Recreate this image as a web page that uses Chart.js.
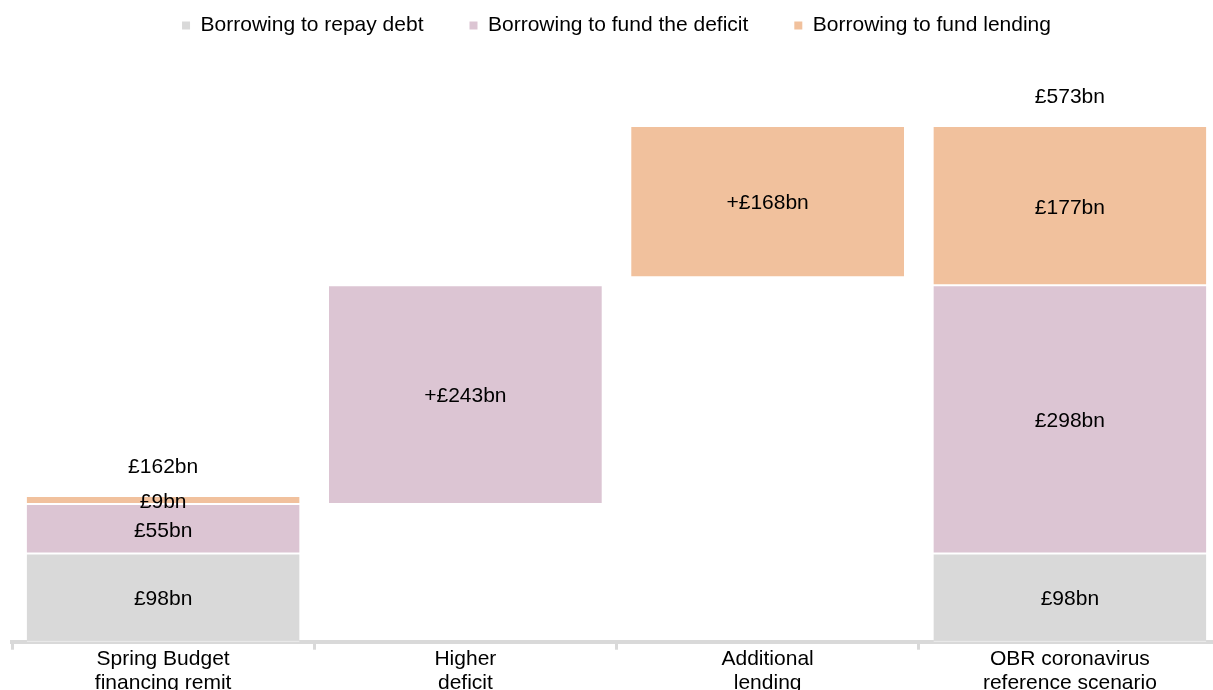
<!DOCTYPE html>
<html>
<head>
<meta charset="utf-8">
<script src="https://cdn.jsdelivr.net/npm/chart.js@4.4.1/dist/chart.umd.min.js"></script>
<style>
  html, body { margin: 0; padding: 0; overflow: hidden; background: #fff; width: 1213px; height: 690px; }
  #wrap { position: absolute; left: 0; top: -31px; width: 1224px; height: 723px; }
</style>
</head>
<body>
<div id="wrap"><canvas id="chart"></canvas></div>
<script>
// Financing remit bridge, £bn
const categories = [
    ['Spring Budget', 'financing remit'],
    ['Higher', 'deficit'],
    ['Additional', 'lending'],
    ['OBR coronavirus', 'reference scenario']
];
const floatBase   = [0, 153, 405, 0];   // invisible offset for the bridge steps
const repayDebt   = [98, 0, 0, 98];
const fundDeficit = [55, 243, 0, 298];
const fundLending = [9, 0, 168, 177];
const labelPrefix = ['', '+', '+', ''];
const showTotal   = [true, false, false, true];

const FONT = '"Liberation Sans", Arial, sans-serif';
const GREY = '#d9d9d9';
const PURPLE = '#dcc5d3';
const ORANGE = '#f1c19d';

const segBorder = { top: 1, bottom: 1, left: 0, right: 0 };

// writes the value in each segment and the stack total above the end bars
const valueLabels = {
    id: 'valueLabels',
    afterDatasetsDraw(chart) {
        const ctx = chart.ctx;
        ctx.save();
        ctx.font = '21px ' + FONT;
        ctx.fillStyle = '#000';
        ctx.textAlign = 'center';
        ctx.textBaseline = 'middle';
        chart.data.datasets.forEach((ds, di) => {
            if (ds.isBase) return;
            const meta = chart.getDatasetMeta(di);
            meta.data.forEach((bar, i) => {
                const v = ds.data[i];
                if (!v) return;
                ctx.fillText(labelPrefix[i] + '£' + v + 'bn', bar.x, (bar.y + bar.base) / 2 + 2);
            });
        });
        const topMeta = chart.getDatasetMeta(chart.data.datasets.length - 1);
        categories.forEach((c, i) => {
            if (!showTotal[i]) return;
            const total = repayDebt[i] + fundDeficit[i] + fundLending[i];
            const bar = topMeta.data[i];
            ctx.fillText('£' + total + 'bn', bar.x, bar.y - 29);
        });
        ctx.restore();
    }
};

new Chart(document.getElementById('chart'), {
    type: 'bar',
    data: {
        labels: categories,
        datasets: [
            { label: '', data: floatBase, backgroundColor: 'rgba(0,0,0,0)', isBase: true },
            { label: 'Borrowing to repay debt', data: repayDebt, backgroundColor: GREY,
              borderColor: '#fff', borderWidth: segBorder, borderSkipped: false },
            { label: 'Borrowing to fund the deficit', data: fundDeficit, backgroundColor: PURPLE,
              borderColor: '#fff', borderWidth: segBorder, borderSkipped: false },
            { label: 'Borrowing to fund lending', data: fundLending, backgroundColor: ORANGE,
              borderColor: '#fff', borderWidth: segBorder, borderSkipped: false }
        ]
    },
    options: {
        responsive: true,
        maintainAspectRatio: false,
        animation: false,
        layout: { padding: { left: 12, right: 3, top: 0, bottom: 0 } },
        datasets: { bar: { categoryPercentage: 1, barPercentage: 0.903 } },
        plugins: {
            tooltip: { enabled: false },
            legend: {
                position: 'top',
                labels: {
                    filter: item => item.text !== '',
                    boxWidth: 8,
                    boxHeight: 8,
                    padding: 46,
                    color: '#000',
                    font: { family: FONT, size: 21 },
                    generateLabels(chart) {
                        return chart.data.datasets.map((ds, i) => ({
                            text: ds.label,
                            fillStyle: ds.backgroundColor,
                            strokeStyle: ds.backgroundColor,
                            lineWidth: 0,
                            datasetIndex: i
                        }));
                    }
                }
            }
        },
        scales: {
            x: {
                stacked: true,
                grid: {
                    display: true,
                    drawOnChartArea: false,
                    drawTicks: true,
                    tickLength: 8,
                    tickWidth: 3,
                    color: GREY
                },
                border: { display: true, color: GREY, width: 4 },
                ticks: {
                    color: '#000',
                    maxRotation: 0,
                    padding: -3,
                    font: { family: FONT, size: 21, lineHeight: 1.15 }
                }
            },
            y: {
                stacked: true,
                display: false,
                min: 0,
                max: 662
            }
        }
    },
    plugins: [valueLabels]
});
</script>
</body>
</html>
